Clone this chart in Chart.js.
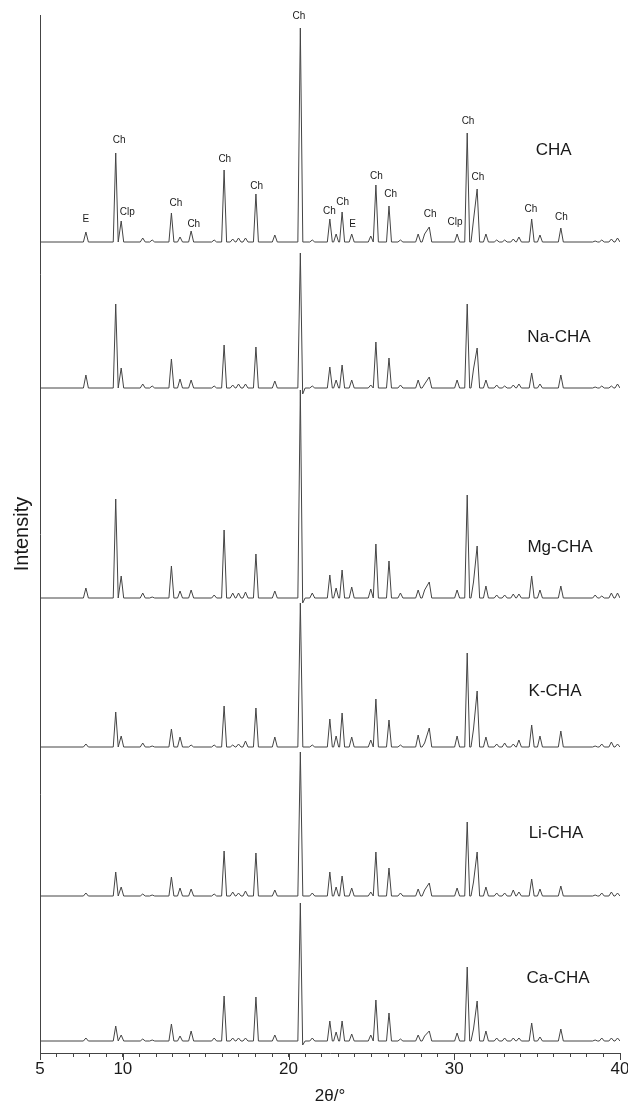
<!DOCTYPE html>
<html><head><meta charset="utf-8">
<script src="https://cdn.jsdelivr.net/npm/chart.js@4.4.1/dist/chart.umd.min.js"></script>
<style>html,body{margin:0;padding:0;background:#fff;}#wrap{width:628px;height:1108px;}</style>
</head><body><div id="wrap"><canvas id="c" width="628" height="1108"></canvas></div>
<script>
// ---- data ----
const sampleNames = ['CHA', 'Na-CHA', 'Mg-CHA', 'K-CHA', 'Li-CHA', 'Ca-CHA'];
const sampleOffsets = [811, 665, 455, 306, 157, 12];
const peakPositions = [7.77, 9.57, 9.90, 11.20, 11.77, 12.93, 13.45, 14.12, 15.51, 16.11, 16.63, 16.98, 17.40, 18.03, 19.17, 20.71, 20.85, 21.43, 22.49, 22.87, 23.23, 23.81, 24.96, 25.27, 26.06, 26.75, 27.82, 28.21, 28.49, 30.17, 30.78, 31.16, 31.38, 31.91, 32.56, 33.04, 33.56, 33.90, 34.67, 35.17, 36.43, 38.50, 38.90, 39.48, 39.85];
const heightsCHA = [10, 89, 21, 4, 2, 29, 5, 11, 2, 72, 3, 4, 4, 48, 7, 214, null, 2, 23, 8, 30, 8, 6, 57, 36, 2, 8, 8, 15, 8, 109, 22, 53, 8, 2, 2, 3, 5, 23, 7, 14, 1, 2, 3, 4];
const heightsNa  = [13, 84, 20, 4, 2, 29, 9, 8, 2, 43, 3, 4, 4, 41, 7, 135, -6, 2, 21, 8, 23, 8, 3, 46, 30, 3, 8, 4, 11, 8, 84, 19, 40, 8, 3, 2, 3, 4, 15, 4, 13, 1, 2, 2, 4];
const heightsMg  = [10, 99, 22, 5, 1, 32, 7, 8, 3, 68, 5, 5, 6, 44, 7, 208, -5, 5, 23, 10, 28, 11, 9, 54, 37, 5, 8, 8, 16, 8, 103, 16, 52, 12, 3, 3, 4, 4, 22, 8, 12, 3, 2, 5, 5];
const heightsK   = [3, 35, 11, 4, 1, 18, 10, 2, 2, 41, 2, 3, 6, 39, 10, 144, null, 2, 28, 11, 34, 10, 7, 48, 27, 2, 12, 4, 19, 11, 94, 18, 56, 10, 3, 4, 3, 7, 22, 11, 16, 1, 3, 5, 3];
const heightsLi  = [3, 24, 9, 2, 1, 19, 8, 7, 2, 45, 4, 3, 5, 43, 6, 144, null, 3, 24, 9, 20, 8, 4, 44, 28, 3, 7, 6, 13, 8, 74, 14, 44, 9, 3, 3, 6, 4, 17, 7, 10, 1, 3, 4, 3];
const heightsCa  = [3, 15, 6, 2, 1, 17, 5, 10, 3, 45, 3, 3, 3, 44, 6, 138, -4, 3, 20, 9, 20, 7, 6, 41, 28, 2, 6, 5, 10, 8, 74, 12, 40, 10, 3, 3, 3, 3, 18, 4, 12, 1, 3, 3, 3];
const tickLabels = [5, 10, 20, 30, 40];
const peakLabelText = ['E', 'Ch', 'Clp', 'Ch', 'Ch', 'Ch', 'Ch', 'Ch', 'Ch', 'Ch', 'E', 'Ch', 'Ch', 'Ch', 'Clp', 'Ch', 'Ch', 'Ch', 'Ch'];
const peakLabelX    = [7.77, 9.77, 10.27, 13.20, 14.28, 16.15, 18.08, 20.63, 22.46, 23.27, 23.86, 25.30, 26.16, 28.54, 30.04, 30.83, 31.42, 34.63, 36.46];
const peakLabelY    = [834, 913, 841, 850, 829, 894, 867, 1037, 842, 851, 829, 877, 859, 839, 831, 932, 876, 844, 836];
const sampleLabelX  = [36.0, 36.32, 36.38, 36.08, 36.14, 36.26];
const sampleLabelY  = [903, 716, 506, 362, 220, 75];

const seriesHeights = [heightsCHA, heightsNa, heightsMg, heightsK, heightsLi, heightsCa];

// expand a peak list into a polyline (baseline feet around each read peak)
function buildTrace(heights, offset) {
  const w = 0.15;
  const pk = [];
  peakPositions.forEach((p, i) => { if (heights[i] !== null) pk.push([p, heights[i]]); });
  const pts = [{x: 5, y: offset}];
  for (let i = 0; i < pk.length; i++) {
    const [p, h] = pk[i];
    const prevRight = i > 0 ? pk[i - 1][0] + w : 5;
    if (p - w > prevRight) pts.push({x: p - w, y: offset});
    pts.push({x: p, y: offset + h});
    const nextLeft = i < pk.length - 1 ? pk[i + 1][0] - w : 40;
    if (p + w < nextLeft) pts.push({x: p + w, y: offset});
  }
  pts.push({x: 40, y: offset});
  return pts;
}

const FONT = "'Liberation Sans', Arial, Helvetica, sans-serif";
const TEXT = '#1a1a1a';
const LINE = '#444444';

const textPlugin = {
  id: 'textPlugin',
  afterDraw(chart) {
    const ctx = chart.ctx, xs = chart.scales.x, ys = chart.scales.y;
    ctx.save();
    ctx.fillStyle = TEXT;
    ctx.textAlign = 'center';
    ctx.textBaseline = 'middle';
    ctx.font = '10px ' + FONT;
    peakLabelText.forEach((t, i) => {
      ctx.fillText(t, xs.getPixelForValue(peakLabelX[i]), ys.getPixelForValue(peakLabelY[i]));
    });
    ctx.font = '17px ' + FONT;
    sampleNames.forEach((t, i) => {
      ctx.fillText(t, xs.getPixelForValue(sampleLabelX[i]), ys.getPixelForValue(sampleLabelY[i]));
    });
    // longer marks at labelled ticks
    ctx.strokeStyle = LINE;
    ctx.lineWidth = 1;
    const b = chart.chartArea.bottom;
    tickLabels.forEach(v => {
      const px = Math.round(xs.getPixelForValue(v)) + 0.5;
      ctx.beginPath(); ctx.moveTo(px, b); ctx.lineTo(px, b + 7); ctx.stroke();
    });
    ctx.restore();
  }
};

new Chart(document.getElementById('c'), {
  type: 'line',
  data: {
    datasets: sampleNames.map((n, i) => ({
      label: n,
      data: buildTrace(seriesHeights[i], sampleOffsets[i]),
      borderColor: LINE,
      borderWidth: 1,
      pointRadius: 0,
      tension: 0,
      fill: false
    }))
  },
  options: {
    responsive: false,
    animation: false,
    devicePixelRatio: 1,
    layout: {padding: {top: 15, right: 8, left: 0, bottom: 0}},
    plugins: {legend: {display: false}, tooltip: {enabled: false}},
    scales: {
      x: {
        type: 'linear', min: 5, max: 40,
        afterFit(s) { s.height = 55; s.paddingLeft = 0; s.paddingRight = 0; },
        border: {display: true, color: LINE, width: 1},
        grid: {display: true, drawOnChartArea: false, drawTicks: true, tickLength: 4, color: LINE},
        ticks: {
          stepSize: 1, autoSkip: false, maxRotation: 0, padding: 2,
          color: TEXT, font: {family: FONT, size: 17},
          callback: v => tickLabels.includes(v) ? String(v) : ''
        },
        title: {display: true, text: '2θ/°', color: TEXT, font: {family: FONT, size: 17}, padding: {top: 0, bottom: 1}}
      },
      y: {
        type: 'linear', min: 0, max: 1038,
        afterFit(s) { s.width = 40; s.paddingTop = 0; s.paddingBottom = 0; },
        border: {display: true, color: LINE, width: 1},
        grid: {display: false},
        ticks: {display: false},
        title: {display: true, text: 'Intensity', color: TEXT, font: {family: FONT, size: 20}, padding: {top: 10, bottom: 0}}
      }
    }
  },
  plugins: [textPlugin]
});
</script></body></html>
